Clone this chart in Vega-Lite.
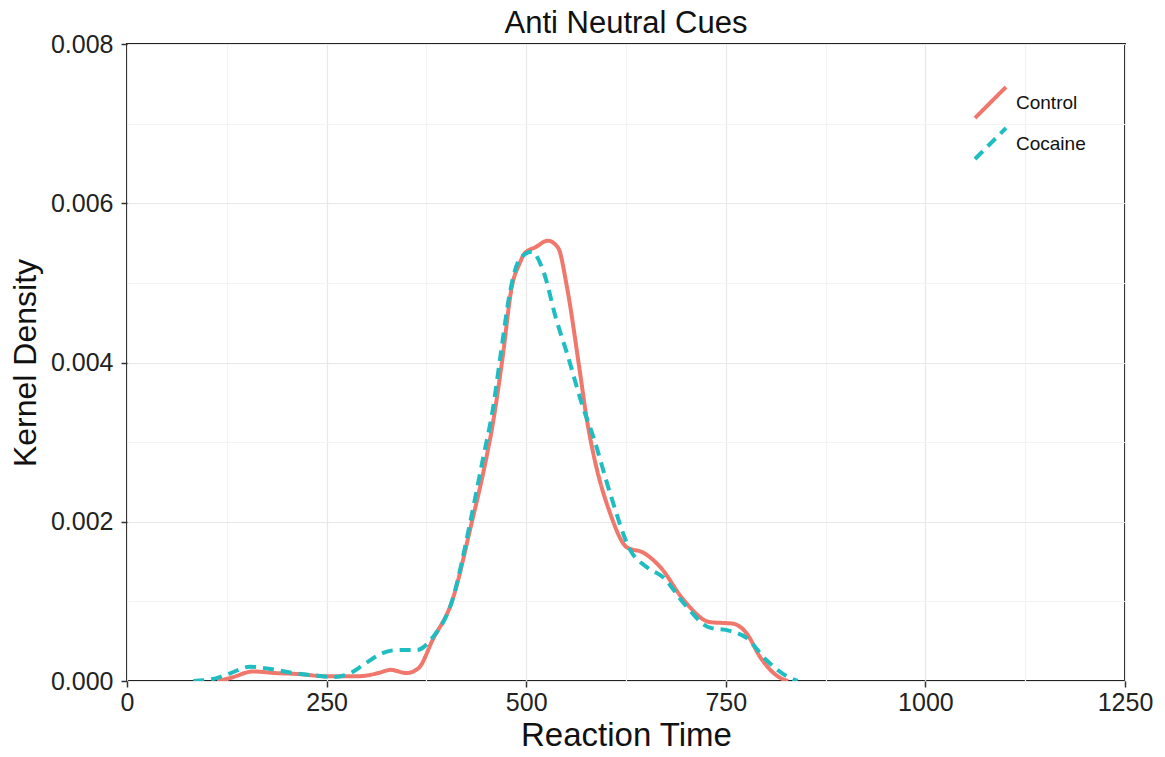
{
  "$schema": "https://vega.github.io/schema/vega-lite/v6.json",
  "autosize": {"type": "none"},
  "width": 998,
  "height": 637,
  "padding": {"left": 127, "top": 44, "right": 40, "bottom": 76},
  "background": "white",
  "title": {"text": "Anti Neutral Cues", "fontSize": 31, "font": "Liberation Sans", "fontWeight": "normal", "color": "#111", "anchor": "middle", "offset": -8},
  "config": {
    "view": {"stroke": "#222", "strokeWidth": 2},
    "font": "Liberation Sans"
  },
  "data": {"values": [
    {"t": 113, "d": 0, "g": "Control"},
    {"t": 130, "d": 0.00004, "g": "Control"},
    {"t": 158, "d": 0.00012, "g": "Control"},
    {"t": 185, "d": 0.0001, "g": "Control"},
    {"t": 210, "d": 0.00009, "g": "Control"},
    {"t": 250, "d": 0.00006, "g": "Control"},
    {"t": 290, "d": 0.00006, "g": "Control"},
    {"t": 315, "d": 0.0001, "g": "Control"},
    {"t": 330, "d": 0.00014, "g": "Control"},
    {"t": 350, "d": 0.0001, "g": "Control"},
    {"t": 365, "d": 0.00016, "g": "Control"},
    {"t": 383, "d": 0.00052, "g": "Control"},
    {"t": 407, "d": 0.001, "g": "Control"},
    {"t": 432, "d": 0.002, "g": "Control"},
    {"t": 448, "d": 0.0027, "g": "Control"},
    {"t": 459, "d": 0.00328, "g": "Control"},
    {"t": 470, "d": 0.00403, "g": "Control"},
    {"t": 482, "d": 0.00495, "g": "Control"},
    {"t": 492, "d": 0.00525, "g": "Control"},
    {"t": 498, "d": 0.00537, "g": "Control"},
    {"t": 512, "d": 0.00545, "g": "Control"},
    {"t": 527, "d": 0.00553, "g": "Control"},
    {"t": 540, "d": 0.00544, "g": "Control"},
    {"t": 551, "d": 0.00495, "g": "Control"},
    {"t": 567, "d": 0.0039, "g": "Control"},
    {"t": 576, "d": 0.00328, "g": "Control"},
    {"t": 584, "d": 0.00286, "g": "Control"},
    {"t": 605, "d": 0.00211, "g": "Control"},
    {"t": 626, "d": 0.00168, "g": "Control"},
    {"t": 647, "d": 0.00161, "g": "Control"},
    {"t": 668, "d": 0.00143, "g": "Control"},
    {"t": 697, "d": 0.00102, "g": "Control"},
    {"t": 730, "d": 0.00074, "g": "Control"},
    {"t": 759, "d": 0.00072, "g": "Control"},
    {"t": 776, "d": 0.0006, "g": "Control"},
    {"t": 793, "d": 0.0003, "g": "Control"},
    {"t": 818, "d": 0.00004, "g": "Control"},
    {"t": 828, "d": 0, "g": "Control"},
    {"t": 83, "d": 0, "g": "Cocaine"},
    {"t": 110, "d": 0.00003, "g": "Cocaine"},
    {"t": 130, "d": 0.0001, "g": "Cocaine"},
    {"t": 154, "d": 0.00018, "g": "Cocaine"},
    {"t": 180, "d": 0.00015, "g": "Cocaine"},
    {"t": 208, "d": 0.0001, "g": "Cocaine"},
    {"t": 235, "d": 0.00007, "g": "Cocaine"},
    {"t": 258, "d": 0.00005, "g": "Cocaine"},
    {"t": 280, "d": 0.0001, "g": "Cocaine"},
    {"t": 300, "d": 0.00023, "g": "Cocaine"},
    {"t": 320, "d": 0.00035, "g": "Cocaine"},
    {"t": 340, "d": 0.00039, "g": "Cocaine"},
    {"t": 363, "d": 0.00039, "g": "Cocaine"},
    {"t": 383, "d": 0.00055, "g": "Cocaine"},
    {"t": 407, "d": 0.001, "g": "Cocaine"},
    {"t": 430, "d": 0.002, "g": "Cocaine"},
    {"t": 446, "d": 0.0028, "g": "Cocaine"},
    {"t": 458, "d": 0.0034, "g": "Cocaine"},
    {"t": 468, "d": 0.0041, "g": "Cocaine"},
    {"t": 480, "d": 0.0049, "g": "Cocaine"},
    {"t": 492, "d": 0.0053, "g": "Cocaine"},
    {"t": 507, "d": 0.00539, "g": "Cocaine"},
    {"t": 521, "d": 0.00516, "g": "Cocaine"},
    {"t": 538, "d": 0.00453, "g": "Cocaine"},
    {"t": 551, "d": 0.00412, "g": "Cocaine"},
    {"t": 571, "d": 0.00344, "g": "Cocaine"},
    {"t": 584, "d": 0.00307, "g": "Cocaine"},
    {"t": 605, "d": 0.00236, "g": "Cocaine"},
    {"t": 630, "d": 0.00165, "g": "Cocaine"},
    {"t": 651, "d": 0.00143, "g": "Cocaine"},
    {"t": 672, "d": 0.0013, "g": "Cocaine"},
    {"t": 697, "d": 0.00098, "g": "Cocaine"},
    {"t": 730, "d": 0.00067, "g": "Cocaine"},
    {"t": 755, "d": 0.00063, "g": "Cocaine"},
    {"t": 776, "d": 0.00054, "g": "Cocaine"},
    {"t": 801, "d": 0.00026, "g": "Cocaine"},
    {"t": 830, "d": 0.00004, "g": "Cocaine"},
    {"t": 840, "d": 0, "g": "Cocaine"}
  ]},
  "mark": {"type": "line", "strokeWidth": 4, "interpolate": "monotone", "clip": true},
  "encoding": {
    "x": {
      "field": "t", "type": "quantitative",
      "scale": {"domain": [0, 1250], "nice": false, "zero": false},
      "axis": {
        "title": "Reaction Time",
        "values": [0, 125, 250, 375, 500, 625, 750, 875, 1000, 1125, 1250],
        "labelExpr": "datum.value % 250 === 0 ? datum.label : ''",
        "format": "d",
        "domain": false,
        "grid": true,
        "gridColor": {"condition": {"test": "datum.value % 250 === 0", "value": "#e8e8e8"}, "value": "#f3f3f3"},
        "gridWidth": 1.2,
        "ticks": true,
        "tickSize": 6,
        "tickWidth": 1.5,
        "tickColor": "#333",
        "tickOpacity": {"condition": {"test": "datum.value % 250 === 0", "value": 1}, "value": 0},
        "labelFontSize": 25,
        "labelColor": "#222",
        "labelPadding": 3,
        "labelFlush": false,
        "titleFontSize": 33,
        "titleFontWeight": "normal",
        "titleColor": "#111",
        "titlePadding": 4
      }
    },
    "y": {
      "field": "d", "type": "quantitative",
      "scale": {"domain": [0, 0.008], "nice": false},
      "axis": {
        "title": "Kernel Density",
        "values": [0, 0.001, 0.002, 0.003, 0.004, 0.005, 0.006, 0.007, 0.008],
        "labelExpr": "round(datum.value * 1000) % 2 === 0 ? format(datum.value, '.3f') : ''",
        "domain": false,
        "grid": true,
        "gridColor": {"condition": {"test": "round(datum.value * 1000) % 2 === 0", "value": "#e8e8e8"}, "value": "#f3f3f3"},
        "gridWidth": 1.2,
        "ticks": true,
        "tickSize": 6,
        "tickWidth": 1.5,
        "tickColor": "#333",
        "tickOpacity": {"condition": {"test": "round(datum.value * 1000) % 2 === 0", "value": 1}, "value": 0},
        "labelFontSize": 25,
        "labelColor": "#222",
        "labelPadding": 8,
        "labelFlush": false,
        "titleFontSize": 32,
        "titleFontWeight": "normal",
        "titleColor": "#111",
        "titlePadding": 8
      }
    },
    "color": {
      "field": "g", "type": "nominal",
      "scale": {"domain": ["Control", "Cocaine"], "range": ["#F0776C", "#1DBDC2"]},
      "legend": {
        "title": null,
        "orient": "none",
        "legendX": 846,
        "legendY": 41,
        "symbolType": "M-1,1L1,-1",
        "symbolSize": 961,
        "symbolStrokeWidth": 4,
        "labelFontSize": 19,
        "labelColor": "#111",
        "labelOffset": 8,
        "rowPadding": -40
      }
    },
    "strokeDash": {
      "field": "g", "type": "nominal",
      "scale": {"domain": ["Control", "Cocaine"], "range": [[1, 0], [11, 7]]},
      "legend": {
        "title": null,
        "orient": "none",
        "legendX": 846,
        "legendY": 41,
        "symbolType": "M-1,1L1,-1",
        "symbolSize": 961,
        "symbolStrokeWidth": 4,
        "labelFontSize": 19,
        "labelColor": "#111",
        "labelOffset": 8,
        "rowPadding": -40
      }
    }
  }
}
